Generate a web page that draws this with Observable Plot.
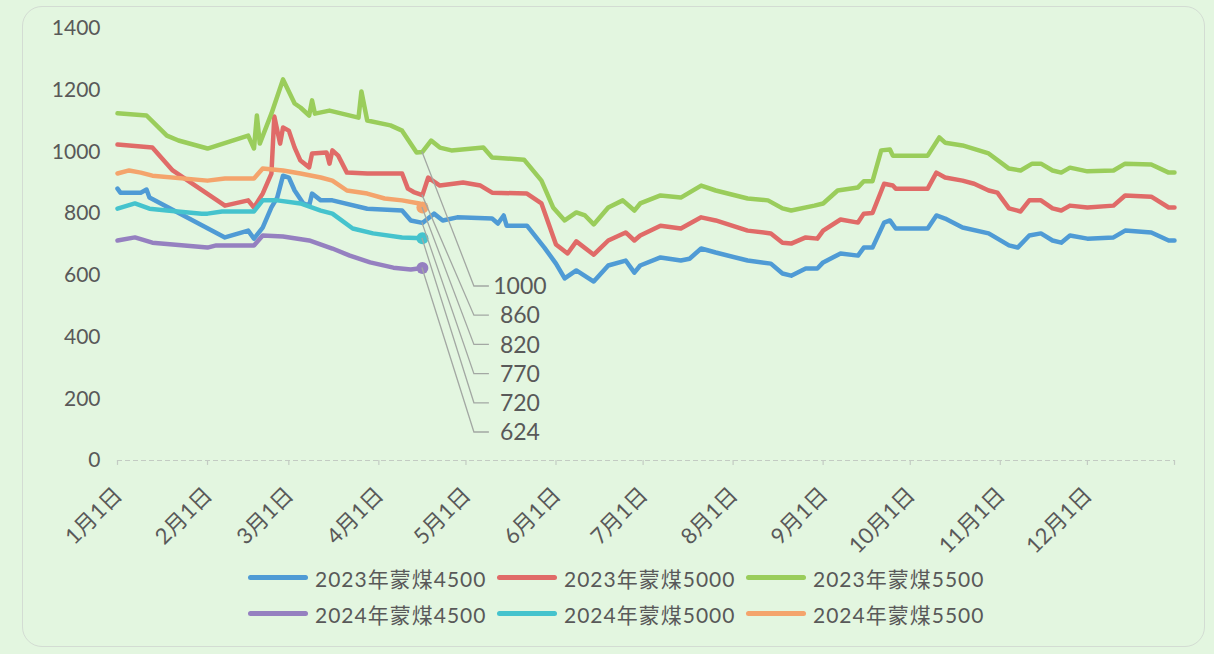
<!DOCTYPE html>
<html>
<head>
<meta charset="utf-8">
<script src="https://cdn.jsdelivr.net/npm/d3@7"></script>
<script src="https://cdn.jsdelivr.net/npm/@observablehq/plot@0.6"></script>
<style>
  html, body { margin: 0; padding: 0; background: #e3f6e0; }
  #wrap { position: relative; width: 1214px; height: 654px; overflow: hidden; background: #e3f6e0;
          font-family: Lato, "Noto Sans CJK SC", sans-serif; color: #595959; }
  #card { position: absolute; left: 22px; top: 6px; width: 1183px; height: 641px;
          border: 1px solid #d3dcd3; border-radius: 20px; box-sizing: border-box; }
  #chart { position: absolute; left: 0; top: 0; }
  #legend { position: absolute; left: 248px; top: 564px; display: grid;
            grid-template-columns: 249px 249px 249px; row-gap: 9px; }
  .item { display: flex; align-items: center; height: 27px; }
  .sw { width: 60px; height: 5px; border-radius: 3px; margin-right: 7px; flex: none; }
  .lb { font-size: 21px; letter-spacing: 1px; white-space: nowrap; color: #595959; }
</style>
</head>
<body>
<div id="wrap">
  <div id="card"></div>
  <div id="chart"></div>
  <div id="legend"></div>
</div>
<script>
// ---- data (month-day, value) ----
const seriesNames = ["2023年蒙煤4500", "2023年蒙煤5000", "2023年蒙煤5500",
                     "2024年蒙煤4500", "2024年蒙煤5000", "2024年蒙煤5500"];
const seriesColors = ["#4f9bd5", "#e06b68", "#9acd5b", "#9580c0", "#45c3cd", "#f4a46c"];

const s2023_4500 = [["01-01",881],["01-02",868],["01-09",868],["01-11",878],["01-12",852],["02-07",723],
  ["02-15",745],["02-17",719],["02-20",755],["02-23",820],["02-25",852],["02-27",923],["03-01",917],
  ["03-03",875],["03-06",833],["03-08",826],["03-09",865],["03-12",843],["03-16",843],["03-28",816],
  ["04-09",810],["04-12",778],["04-16",770],["04-20",800],["04-23",778],["04-28",788],["05-10",784],
  ["05-12",768],["05-14",794],["05-15",761],["05-22",761],["05-28",690],["06-01",638],["06-04",590],
  ["06-08",616],["06-14",580],["06-19",632],["06-25",648],["06-28",609],["06-30",632],["07-07",658],
  ["07-14",648],["07-17",654],["07-21",687],["07-26",674],["08-06",648],["08-14",638],["08-18",606],
  ["08-21",599],["08-26",622],["08-30",622],["09-01",642],["09-07",671],["09-13",664],["09-15",690],
  ["09-18",690],["09-22",771],["09-24",778],["09-26",752],["10-07",752],["10-10",794],["10-13",784],
  ["10-19",755],["10-28",736],["11-04",697],["11-07",690],["11-11",729],["11-15",736],["11-19",713],
  ["11-22",706],["11-25",729],["12-01",719],["12-10",723],["12-14",745],["12-23",739],["12-29",713],
  ["12-31",713]];

const s2023_5000 = [["01-01",1024],["01-13",1014],["01-20",940],["02-07",826],["02-15",843],["02-17",820],
  ["02-20",865],["02-23",930],["02-24",1115],["02-26",1027],["02-27",1079],["03-01",1069],["03-03",1014],
  ["03-05",972],["03-08",950],["03-09",995],["03-14",998],["03-15",962],["03-16",1005],["03-18",988],
  ["03-21",933],["03-28",930],["04-09",930],["04-11",881],["04-13",870],["04-16",860],["04-18",917],
  ["04-22",891],["04-30",901],["05-06",891],["05-10",868],["05-22",865],["05-27",833],["06-01",700],
  ["06-05",671],["06-08",710],["06-14",667],["06-19",713],["06-25",739],["06-28",713],["06-30",729],
  ["07-07",761],["07-14",752],["07-21",788],["07-26",778],["08-06",745],["08-14",736],["08-18",706],
  ["08-21",703],["08-26",723],["08-30",719],["09-01",745],["09-07",781],["09-13",771],["09-15",800],
  ["09-18",802],["09-22",897],["09-25",891],["09-26",881],["10-07",881],["10-10",933],["10-13",917],
  ["10-19",907],["10-23",897],["10-28",875],["10-31",868],["11-04",817],["11-08",807],["11-11",843],
  ["11-15",843],["11-19",817],["11-22",810],["11-25",826],["12-01",820],["12-10",826],["12-14",859],
  ["12-23",855],["12-29",820],["12-31",820]];

const s2023_5500 = [["01-01",1125],["01-11",1118],["01-18",1053],["01-22",1037],["02-01",1011],["02-15",1053],
  ["02-17",1011],["02-18",1118],["02-19",1027],["02-23",1124],["02-27",1235],["03-03",1157],["03-05",1144],
  ["03-08",1118],["03-09",1167],["03-10",1124],["03-15",1134],["03-25",1111],["03-26",1196],["03-28",1102],
  ["04-05",1086],["04-09",1069],["04-14",998],["04-16",1000],["04-19",1037],["04-22",1014],["04-26",1005],
  ["05-07",1014],["05-10",982],["05-21",975],["05-27",907],["05-31",820],["06-04",778],["06-08",804],
  ["06-11",794],["06-14",765],["06-19",820],["06-24",843],["06-28",810],["06-30",833],["07-07",859],
  ["07-14",852],["07-21",891],["07-26",875],["08-06",849],["08-13",843],["08-18",817],["08-21",810],
  ["08-29",826],["09-01",833],["09-06",875],["09-13",885],["09-15",905],["09-18",905],["09-21",1005],
  ["09-24",1008],["09-25",988],["10-07",988],["10-11",1047],["10-13",1030],["10-19",1021],["10-28",995],
  ["11-04",946],["11-08",940],["11-12",962],["11-15",962],["11-19",940],["11-22",933],["11-25",949],
  ["12-01",937],["12-10",940],["12-14",962],["12-23",959],["12-29",933],["12-31",933]];

const s2024_4500 = [["01-01",713],["01-07",723],["01-13",706],["02-01",690],["02-04",697],["02-17",697],
  ["02-20",729],["02-27",726],["03-08",713],["03-16",687],["03-22",664],["03-29",642],["04-06",625],
  ["04-12",619],["04-16",624]];

const s2024_5000 = [["01-01",816],["01-07",833],["01-12",816],["01-18",810],["01-30",800],["02-01",800],
  ["02-06",807],["02-17",807],["02-20",843],["02-25",843],["03-05",833],["03-12",810],["03-16",800],
  ["03-23",752],["03-30",736],["04-09",723],["04-16",720]];

const s2024_5500 = [["01-01",930],["01-05",940],["01-09",933],["01-13",923],["02-01",907],["02-07",914],
  ["02-17",914],["02-20",946],["02-27",940],["03-05",930],["03-12",917],["03-16",907],["03-21",875],
  ["03-28",865],["04-03",849],["04-09",843],["04-15",833],["04-16",820]];

const yTicks = [0, 200, 400, 600, 800, 1000, 1200, 1400];
const monthTickLabels = ["1月1日","2月1日","3月1日","4月1日","5月1日","6月1日",
                         "7月1日","8月1日","9月1日","10月1日","11月1日","12月1日"];
const monthTickDates = ["01-01","02-01","03-01","04-01","05-01","06-01",
                        "07-01","08-01","09-01","10-01","11-01","12-01"];
const calloutDate = "04-16";
const calloutValues = [1000, 860, 820, 770, 720, 624];
const calloutLabels = ["1000", "860", "820", "770", "720", "624"];

// ---- build ----
const parse = d3.utcParse("%Y-%m-%d");
const toDate = s => parse("2023-" + s);
const allSeries = [s2023_4500, s2023_5000, s2023_5500, s2024_4500, s2024_5000, s2024_5500];
const rows = allSeries.flatMap((s, i) => s.map(([d, v]) => ({series: seriesNames[i], date: toDate(d), value: v})));
const endRows = [3, 4, 5].map(i => {
  const s = allSeries[i], last = s[s.length - 1];
  return {series: seriesNames[i], date: toDate(last[0]), value: last[1]};
});
const ticks = monthTickDates.map(toDate);
const FONT = 'Lato, "Noto Sans CJK SC", sans-serif';

function callouts(index, scales) {
  const g = d3.create("svg:g");
  calloutValues.forEach((v, i) => {
    const x0 = scales.x(toDate(calloutDate));
    const y0 = scales.y(v);
    const ly = 286 + i * 29.2;
    g.append("path")
      .attr("d", `M${x0},${y0}L${x0 + 52},${ly}L${x0 + 67},${ly}`)
      .attr("fill", "none").attr("stroke", "#a3a8a3").attr("stroke-width", 1.3);
    g.append("text")
      .attr("x", x0 + 98).attr("y", ly).attr("dy", "0.36em")
      .attr("text-anchor", "middle").attr("fill", "#595959")
      .attr("font-size", 23).attr("font-family", FONT)
      .text(calloutLabels[i]);
  });
  return g.node();
}

const chart = Plot.plot({
  width: 1214,
  height: 560,
  marginLeft: 117,
  marginRight: 40,
  marginTop: 28,
  marginBottom: 100,
  style: {background: "transparent", fontFamily: FONT, fontSize: "21px", color: "#595959", overflow: "visible"},
  x: {type: "utc", domain: [toDate("01-01"), toDate("12-31")], axis: null},
  y: {domain: [0, 1400], axis: null},
  color: {domain: seriesNames, range: seriesColors},
  marks: [
    Plot.ruleY([0], {stroke: "#c3cbc3", strokeWidth: 1.2, strokeDasharray: "5,3"}),
    Plot.ruleX(ticks.concat([toDate("12-31")]), {y1: 0, y2: -16, stroke: "#c3cbc3", strokeWidth: 1.2}),
    Plot.axisY(yTicks, {tickSize: 0, tickPadding: 17, fontSize: 21, fill: "#595959", label: null,
      tickFormat: d => String(d)}),
    Plot.text(ticks, {x: d => d, frameAnchor: "bottom", text: (d, i) => monthTickLabels[i],
      rotate: -45, textAnchor: "end", lineAnchor: "bottom", dx: 6, dy: 36, fontSize: 22, fill: "#595959"}),
    Plot.line(rows, {x: "date", y: "value", z: "series", stroke: "series",
      strokeWidth: 4.5, strokeLinejoin: "round", strokeLinecap: "round"}),
    Plot.dot(endRows, {x: "date", y: "value", fill: "series", r: 6}),
    callouts
  ]
});
document.getElementById("chart").appendChild(chart);

// legend
const legend = document.getElementById("legend");
seriesNames.forEach((name, i) => {
  const item = document.createElement("div");
  item.className = "item";
  const sw = document.createElement("div");
  sw.className = "sw";
  sw.style.background = seriesColors[i];
  const lb = document.createElement("span");
  lb.className = "lb";
  lb.textContent = name;
  item.appendChild(sw);
  item.appendChild(lb);
  legend.appendChild(item);
});
</script>
</body>
</html>
